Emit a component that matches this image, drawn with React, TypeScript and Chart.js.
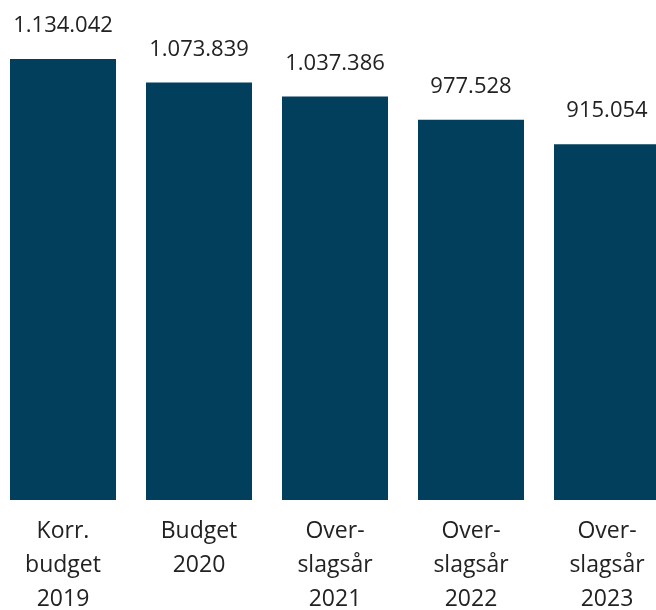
import React, { useEffect, useRef } from "react";
import { Chart, registerables } from "chart.js";

Chart.register(...registerables);

const categories: string[][] = [
  ["Korr.", "budget", "2019"],
  ["Budget", "2020"],
  ["Over-", "slagsår", "2021"],
  ["Over-", "slagsår", "2022"],
  ["Over-", "slagsår", "2023"],
];
const values: number[] = [1134042, 1073839, 1037386, 977528, 915054];

const FONT = "'Open Sans', sans-serif";
const BAR_COLOR = "#023f5c";
const TEXT_COLOR = "#222222";

const fmt = (v: number) => v.toString().replace(/\B(?=(\d{3})+(?!\d))/g, ".");

const valueLabels = {
  id: "valueLabels",
  afterDatasetsDraw(chart: any) {
    const ctx = chart.ctx;
    const meta = chart.getDatasetMeta(0);
    ctx.save();
    ctx.font = `22px ${FONT}`;
    ctx.fillStyle = TEXT_COLOR;
    ctx.textAlign = "center";
    ctx.textBaseline = "middle";
    meta.data.forEach((el: any, i: number) => {
      ctx.fillText(fmt(values[i]), el.x, el.y - 33);
    });
    ctx.restore();
  },
};

export default function App() {
  const ref = useRef<HTMLCanvasElement>(null);
  useEffect(() => {
    if (!ref.current) return;
    const chart = new Chart(ref.current, {
      type: "bar",
      data: {
        labels: categories,
        datasets: [
          {
            data: values,
            backgroundColor: BAR_COLOR,
            borderWidth: 0,
            barPercentage: 106 / 136,
            categoryPercentage: 1,
          },
        ],
      },
      options: {
        responsive: false,
        animation: false,
        layout: { padding: 0 },
        plugins: { legend: { display: false }, tooltip: { enabled: false } },
        scales: {
          x: {
            grid: { display: false },
            border: { display: false },
            ticks: {
              color: TEXT_COLOR,
              font: { family: FONT, size: 23, lineHeight: 1.48 },
              padding: 6,
              maxRotation: 0,
              autoSkip: false,
            },
            afterFit: (scale: any) => {
              scale.height = 110;
            },
          },
          y: {
            display: false,
            min: 0,
            max: 1285762,
          },
        },
      },
      plugins: [valueLabels],
    });
    return () => chart.destroy();
  }, []);
  return (
    <div style={{ position: "fixed", left: 0, top: 0, width: 656, height: 610, overflow: "hidden", background: "#fff" }}>
      <canvas ref={ref} width={680} height={610} style={{ position: "absolute", left: -5, top: 0, width: 680, height: 610 }} />
    </div>
  );
}
